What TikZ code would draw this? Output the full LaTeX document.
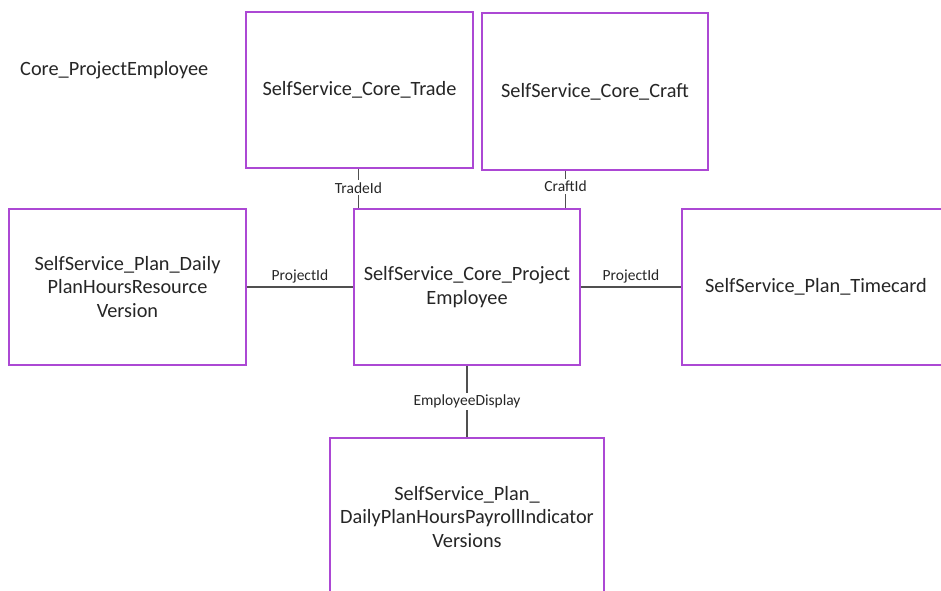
\documentclass[tikz,border=0pt]{standalone}
\usepackage{fontspec}
\setmainfont{Carlito}
\usetikzlibrary{positioning}
\definecolor{boxpurple}{RGB}{172,72,212}
\definecolor{linkgray}{RGB}{80,80,80}
\definecolor{textgray}{RGB}{38,38,38}

\begin{document}
\begin{tikzpicture}[x=1pt,y=-1pt,
	table/.style={draw=boxpurple, line width=1.2pt, fill=white, align=center,
		text=textgray, font=\fontsize{20.3}{23.5}\selectfont, inner sep=0pt},
	link/.style={draw=linkgray, line width=1.1pt},
	key/.style={font=\fontsize{15.5}{17}\selectfont, text=textgray, fill=white, inner sep=2pt}
	]
	\useasboundingbox (0,0) rectangle (941,590);
	\node[font=\fontsize{20.3}{23.5}\selectfont, text=textgray, anchor=west, inner sep=0pt] (title) at (20,70) {Core\_ProjectEmployee};
	\node[table, minimum width=227pt, minimum height=156pt] (trade) at (359.5,90) {SelfService\_Core\_Trade};
	\node[table, minimum width=226pt, minimum height=157pt] (craft) at (595,91.5) {SelfService\_Core\_Craft};
	\node[table, minimum width=237pt, minimum height=156pt] (resource) at (127.5,287) {SelfService\_Plan\_Daily\\PlanHoursResource\\Version};
	\node[table, minimum width=226pt, minimum height=156pt] (core) at (467,287) {SelfService\_Core\_Project\\Employee};
	\node[table, minimum width=268pt, minimum height=156pt] (timecard) at (816,287) {SelfService\_Plan\_Timecard};
	\node[table, minimum width=274pt, minimum height=158pt] (payroll) at (467,517) {SelfService\_Plan\_\\DailyPlanHoursPayrollIndicator\\Versions};

	\draw[link] ([xshift=5pt]core.north west |- trade.south) -- ([xshift=5pt]core.north west) node[key, pos=0.48] {TradeId};
	\draw[link] ([xshift=-15pt]core.north east |- craft.south) -- ([xshift=-15pt]core.north east) node[key, pos=0.42] {CraftId};
	\draw[link] (resource.east) -- (core.west) node[key, midway, above=1pt, fill=none] {ProjectId};
	\draw[link] (core.east) -- (timecard.west) node[key, midway, above=1pt, fill=none] {ProjectId};
	\draw[link] (core.south) -- (payroll.north) node[key, midway] {EmployeeDisplay};
\end{tikzpicture}
\end{document}
